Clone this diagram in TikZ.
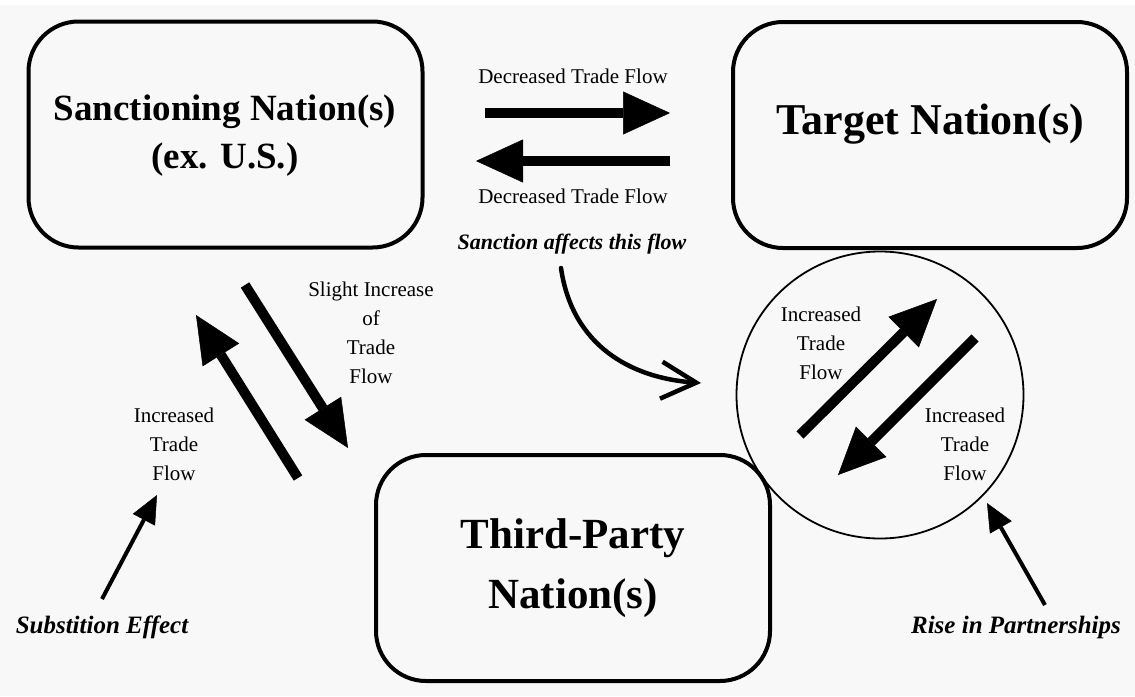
\documentclass[tikz,border=0pt]{standalone}
\usepackage{fontspec}
\setmainfont{Liberation Serif}
\usetikzlibrary{arrows.meta}
\definecolor{bgc}{RGB}{248,248,248}
\begin{document}
\begin{tikzpicture}[x=1pt,y=-1pt,
  nation/.style={draw, line width=4pt, rounded corners=50pt, minimum width=394pt, minimum height=226pt, inner sep=0pt},
  boxtext/.style={font=\bfseries\fontsize{44}{60}\selectfont, align=center, inner sep=0pt},
  lbl/.style={font=\fontsize{21}{29}\selectfont, align=center, inner sep=0pt},
  note/.style={font=\bfseries\itshape\fontsize{25}{30}\selectfont, inner sep=0pt},
  flow/.style={line width=10pt, -{Triangle[length=47pt,width=43pt,line width=0.5pt]}},
  pointer/.style={line width=4pt, -{Triangle[length=28pt,width=25pt,line width=0.5pt]}},
]
\fill[bgc] (0,0) rectangle (1135,696);
\fill[white] (0,0) rectangle (1135,5);
\useasboundingbox (0,0) rectangle (1135,696);

% boxes
\node[nation] (sanc) at (225.5,134.5) {};
\node[nation] (target) at (930,135) {};
\node[nation] (third) at (573,568) {};
\node[boxtext, font=\bfseries\fontsize{37}{48}\selectfont] (sanctxt) at (225,136) {Sanctioning Nation(s)\\(ex. U.S.)};
\node[boxtext] (targettxt) at (930,124.5) {Target Nation(s)};
\node[boxtext, font=\bfseries\fontsize{43}{60}\selectfont] (thirdtxt) at (573,568) {Third-Party\\Nation(s)};

% circle
\node[draw, circle, line width=1.8pt, minimum size=287pt, inner sep=0pt] (hub) at (880,395) {};

% horizontal flows
\coordinate (d1s) at (485,113); \coordinate (d1e) at (670,113);
\coordinate (d2s) at (670,161); \coordinate (d2e) at (476,161);
\draw[flow] (d1s) -- (d1e);
\draw[flow] (d2s) -- (d2e);
\node[lbl, anchor=base] (dtop) at (573,83) {Decreased Trade Flow};
\node[lbl, anchor=base] (dbot) at (573,203) {Decreased Trade Flow};
\node[font=\bfseries\itshape\fontsize{22}{26}\selectfont, inner sep=0pt, anchor=base] (sanction) at (572,249) {Sanction affects this flow};

% curved arrow
\coordinate (cs) at (561,268); \coordinate (ce) at (701,383);
\draw[line width=4.5pt, line cap=round, -{Straight Barb[length=35pt,width=37pt,line width=4.5pt]}] (cs) .. controls (572,345) and (630,378) .. (ce);

% diagonal flows in circle
\coordinate (u1s) at (800,435); \coordinate (u1e) at (937,299);
\coordinate (u2s) at (975,338); \coordinate (u2e) at (838,475);
\draw[flow] (u1s) -- (u1e);
\draw[flow] (u2s) -- (u2e);
\node[lbl] (cl) at (821,343.5) {Increased\\Trade\\Flow};
\node[lbl] (cr) at (965,444) {Increased\\Trade\\Flow};

% flows between sanctioning and third-party
\coordinate (s1s) at (245,285); \coordinate (s1e) at (348,448);
\coordinate (s2s) at (298,478); \coordinate (s2e) at (196,315);
\draw[flow] (s1s) -- (s1e);
\draw[flow] (s2s) -- (s2e);
\node[lbl] (slight) at (371,333) {Slight Increase\\of\\Trade\\Flow};
\node[lbl] (incl) at (174,444.5) {Increased\\Trade\\Flow};

% pointers
\coordinate (p1s) at (102,599); \coordinate (p1e) at (157,495);
\coordinate (p2s) at (1045,605); \coordinate (p2e) at (987,503);
\draw[pointer] (p1s) -- (p1e);
\draw[pointer] (p2s) -- (p2e);
\node[note, anchor=base] (subst) at (102,633) {Substition Effect};
\node[note, anchor=base] (rise) at (1016,633) {Rise in Partnerships};
\end{tikzpicture}
\end{document}
